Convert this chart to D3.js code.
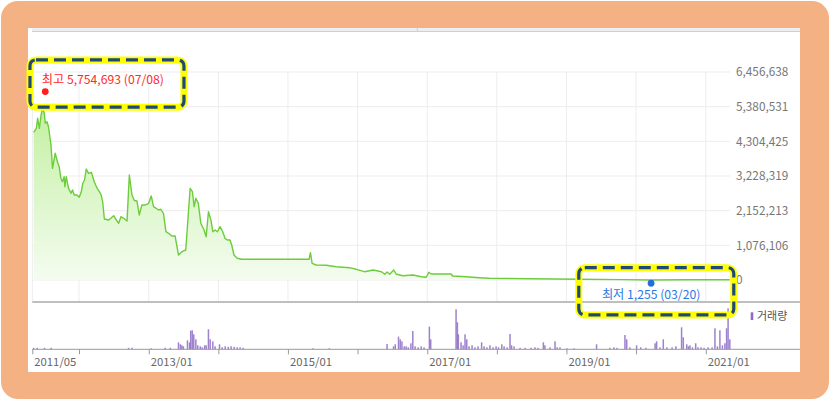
<!DOCTYPE html>
<html><head><meta charset="utf-8">
<script src="https://cdn.jsdelivr.net/npm/d3@7"></script>
<style>
body{margin:0;background:#fff}
svg{display:block}
text{font-family:"Noto Sans CJK KR","Noto Sans",sans-serif}
</style>
</head><body>
<svg id="c" width="830" height="400"></svg>
<script>
// ---------- DATA ----------
const priceDates = ["2011-05-08","2011-05-22","2011-05-29","2011-06-07","2011-06-16","2011-06-24","2011-07-03","2011-07-08","2011-07-17","2011-07-25",
"2011-08-07","2011-08-15","2011-08-29","2011-09-10","2011-09-19","2011-09-28","2011-10-06","2011-10-15","2011-10-19","2011-10-26",
"2011-11-07","2011-11-20","2011-11-28","2011-12-07","2011-12-21","2012-01-02","2012-01-13","2012-01-21","2012-01-30","2012-02-08",
"2012-02-20","2012-03-06","2012-03-21","2012-04-05","2012-04-17","2012-04-26","2012-05-04","2012-05-13","2012-06-05","2012-06-19",
"2012-07-01","2012-07-15","2012-07-27","2012-08-08","2012-08-22","2012-09-09","2012-09-21","2012-10-05","2012-10-17","2012-10-31",
"2012-11-12","2012-11-26","2012-12-14","2012-12-31","2013-01-14","2013-01-26","2013-02-09","2013-02-21","2013-03-05","2013-03-19",
"2013-04-01","2013-04-15","2013-05-02","2013-05-19","2013-06-06","2013-06-24","2013-07-14","2013-08-06","2013-08-18","2013-08-27",
"2013-09-05","2013-09-18","2013-10-01","2013-10-18","2013-10-29","2013-11-10","2013-11-23","2013-12-03","2013-12-15","2013-12-27",
"2014-01-10","2014-01-24","2014-02-05","2014-02-17","2014-03-03","2014-03-12","2014-03-24","2014-04-10","2014-05-03","2015-04-22",
"2015-04-29","2015-05-08","2015-05-29","2015-07-21","2015-09-12","2015-11-20","2015-12-25","2016-02-07","2016-03-23","2016-05-06",
"2016-05-23","2016-06-04","2016-06-18","2016-07-09","2016-07-23","2016-08-27","2016-10-18","2016-12-01","2016-12-27","2017-01-09",
"2017-01-21","2017-05-06","2017-05-14","2017-07-23","2017-10-01","2017-11-23","2018-06-20","2019-03-08","2019-10-15","2020-03-20",
"2020-09-15","2021-05-07"];
const priceValues = [4585000,4709000,5019000,4709000,5122000,5330000,5175000,4864000,4914000,4759000,
4191000,3467000,3933000,3672000,3517000,3157000,3051000,3207000,2896000,3207000,
2846000,2691000,2794000,2639000,2639000,2567000,2741000,3002000,3104000,3446000,
3312000,3343000,3051000,2846000,2741000,2639000,2431000,1894000,1862000,1934000,
1996000,1862000,1760000,1965000,1915000,1831000,3259000,2639000,2468000,2452000,
2018000,2328000,2328000,2381000,2607000,2275000,2226000,2173000,2195000,2070000,
1499000,1450000,1366000,1366000,776000,878000,931000,2846000,2741000,2275000,
2536000,2381000,1760000,1552000,1344000,2120000,1862000,1499000,1552000,1499000,
1655000,1499000,1294000,1242000,1242000,1086000,776000,674000,643000,643000,
847000,518000,466000,456000,413000,382000,332000,258000,310000,258000,
177000,248000,177000,310000,177000,133000,155000,102000,84000,239000,
186000,186000,124000,102000,71000,53000,40000,22000,12000,1255,
8000,6000];

const volumeDates = ["2011-05-08","2011-05-27","2011-07-04","2011-08-08","2012-09-17","2012-10-05","2013-01-14","2013-03-28","2013-04-24","2013-06-06",
"2013-06-16","2013-06-24","2013-07-02","2013-07-23","2013-08-03","2013-08-09","2013-08-17","2013-08-25","2013-09-05","2013-09-15",
"2013-09-28","2013-10-08","2013-10-21","2013-10-29","2013-11-10","2013-11-19","2013-12-03","2013-12-15","2014-01-07","2014-01-21",
"2014-02-06","2014-02-22","2014-03-09","2014-03-25","2014-04-10","2014-04-25","2014-05-11","2015-05-11","2015-08-06","2016-06-04",
"2016-07-08","2016-07-17","2016-08-03","2016-08-12","2016-08-21","2016-09-02","2016-09-12","2016-09-23","2016-10-07","2016-10-17",
"2016-10-29","2016-11-14","2016-11-30","2016-12-15","2017-01-12","2017-01-19","2017-06-01","2017-06-08","2017-06-13","2017-06-27",
"2017-07-08","2017-07-18","2017-07-27","2017-08-08","2017-08-24","2017-09-08","2017-09-24","2017-10-13","2017-10-26","2017-11-10",
"2017-11-26","2017-12-12","2017-12-28","2018-01-10","2018-01-27","2018-02-08","2018-02-24","2018-03-11","2018-03-19","2018-04-01",
"2018-05-03","2018-05-29","2018-06-29","2018-07-20","2018-08-05","2018-09-02","2018-09-10","2018-10-07","2018-11-02","2018-11-13",
"2018-11-28","2019-01-04","2019-02-10","2019-06-08","2019-08-17","2019-09-07","2019-09-23","2019-11-04","2019-11-13","2019-11-30",
"2020-01-04","2020-01-26","2020-02-22","2020-04-10","2020-04-18","2020-05-06","2020-05-23","2020-06-11","2020-07-08","2020-07-28",
"2020-08-27","2020-09-05","2020-09-23","2020-10-02","2020-10-10","2020-10-23","2020-11-09","2020-11-21","2020-12-07","2020-12-23",
"2021-01-13","2021-02-03","2021-02-18","2021-03-03","2021-03-16","2021-03-29","2021-04-11","2021-04-20","2021-04-28","2021-05-07"];
const volumeValues = [1500,1500,1500,1500,1500,1500,1000,1500,1500,7000,
5000,4000,3000,9000,7000,18700,19000,15000,10000,4000,
3000,2000,4000,4000,20000,10000,8000,3000,5000,2000,
3000,2500,3000,2500,2000,2000,1500,1000,1000,5300,
3000,5000,12700,10000,8000,3000,3000,2000,6000,18300,
3000,2000,3000,2000,22700,10000,40000,27000,15000,7000,
4000,15000,10000,3000,4000,2000,3000,7000,3000,2000,
4000,2000,3000,2000,5000,3000,2000,15300,4000,3000,
1500,1500,1500,2000,1500,7000,4000,2000,8000,2000,
2000,1000,1000,5000,1500,2000,1500,14300,10000,2000,
4000,2000,1500,6000,8000,2000,10000,2000,2000,3000,
22000,12000,5000,3000,4000,2000,6000,2000,2000,1500,
2000,2000,21000,3000,19000,4000,6000,21000,41000,10000];

const yTickValues = [0,1076106,2152213,3228319,4304425,5380531,6456638];
const xTickDates = ["2011-05-01","2012-01-01","2013-01-01","2014-01-01","2015-01-01","2016-01-01","2017-01-01","2018-01-01","2019-01-01","2020-01-01","2021-01-01"];
const xTickLabels = ["2011/05","","2013/01","","2015/01","","2017/01","","2019/01","","2021/01"];
const extremeLabels = ["최고","최저"];
const extremeValues = [5754693,1255];
const extremeDates = ["2011-07-08","2020-03-20"];
const extremeDateLabels = ["07/08","03/20"];
const volumeLabel = "거래량";

// ---------- SETUP ----------
const parse = d3.timeParse("%Y-%m-%d");
const price = priceDates.map((d,i)=>({date:parse(d), v:priceValues[i]}));
const vol = volumeDates.map((d,i)=>({date:parse(d), v:volumeValues[i]}));
const xTicks = xTickDates.map(parse);

const L = 32.3, R = 730, PT = 72, PB = 280, SEP = 302, VB = 349.3, VT = 308.3;
const x = d3.scaleTime().domain([parse("2011-05-01"), parse("2021-05-08")]).range([L, R]);
const y = d3.scaleLinear().domain([0, 6456638]).range([PB, PT]);
const vy = d3.scaleLinear().domain([0, d3.max(volumeValues)]).range([VB, VT]);

const svg = d3.select("#c");

// frame
svg.append("rect").attr("x",1).attr("y",1).attr("width",828).attr("height",398).attr("rx",17).attr("fill","#f4b183");
svg.append("rect").attr("x",28).attr("y",28).attr("width",772).attr("height",344).attr("fill","#fff");
svg.append("rect").attr("x",32).attr("y",28).attr("width",768).attr("height",3.5).attr("fill","#eeeef2");
svg.append("line").attr("x1",32).attr("x2",800).attr("y1",31.5).attr("y2",31.5).attr("stroke","#cfcfd8");
svg.append("line").attr("x1",417.3).attr("x2",417.3).attr("y1",28).attr("y2",31.5).attr("stroke","#cfcfd8");

// gradient
const defs = svg.append("defs");
const g = defs.append("linearGradient").attr("id","gf").attr("gradientUnits","userSpaceOnUse")
  .attr("x1",0).attr("x2",0).attr("y1",y(5400000)).attr("y2",y(0));
g.append("stop").attr("offset","0").attr("stop-color","#c2f0a0");
g.append("stop").attr("offset","1").attr("stop-color","#f4fcf0");

// grid
svg.append("g").selectAll("line").data(yTickValues).join("line")
  .attr("x1",L).attr("x2",R).attr("y1",d=>y(d)).attr("y2",d=>y(d))
  .attr("stroke","#ededed").attr("stroke-width",1);
svg.append("g").selectAll("line").data(xTicks).join("line")
  .attr("x1",d=>x(d)).attr("x2",d=>x(d)).attr("y1",PT).attr("y2",SEP)
  .attr("stroke","#ededed").attr("stroke-width",1);

// area + line
svg.append("path").datum(price)
  .attr("d", d3.area().x(d=>x(d.date)).y0(y(0)).y1(d=>y(d.v)))
  .attr("fill","url(#gf)");
svg.append("path").datum(price)
  .attr("d", d3.line().x(d=>x(d.date)).y(d=>y(d.v)))
  .attr("fill","none").attr("stroke","#6dcc3c").attr("stroke-width",1.4).attr("stroke-linejoin","round");

// y labels
svg.append("g").selectAll("text").data(yTickValues).join("text")
  .attr("x",736).attr("y",d=>y(d)).attr("dy","0.36em")
  .attr("font-size",11.8).attr("fill","#777").text(d=>d3.format(",")(d));

// separator
svg.append("line").attr("x1",L).attr("x2",800).attr("y1",SEP).attr("y2",SEP)
  .attr("stroke","#aaa").attr("stroke-width",1.5);

// volume
svg.append("g").selectAll("rect").data(vol).join("rect")
  .attr("x",d=>x(d.date)-0.75).attr("width",1.5)
  .attr("y",d=>vy(d.v)).attr("height",d=>VB-vy(d.v))
  .attr("fill","#8d6cc6").attr("fill-opacity",0.85);

// bottom axis
svg.append("line").attr("x1",L).attr("x2",800).attr("y1",VB).attr("y2",VB).attr("stroke","#999");
const ax = svg.append("g").attr("transform",`translate(0,${VB})`)
  .call(d3.axisBottom(x).tickValues(xTicks).tickSize(5).tickFormat((d,i)=>xTickLabels[i]));
ax.select(".domain").remove();
ax.selectAll(".tick line").attr("stroke","#999");
ax.selectAll(".tick text").attr("text-anchor","start").attr("x",1.5).attr("y",8.5)
  .attr("font-size",11.3).attr("fill","#666").attr("font-family",null);

// legend
svg.append("rect").attr("x",750.7).attr("y",312.3).attr("width",2.6).attr("height",7.7).attr("fill","#8d6cc6");
svg.append("text").attr("x",757).attr("y",316.2).attr("dy","0.36em").attr("font-size",11).attr("fill","#555").text(volumeLabel);

// extremes
const colors = ["#ff1e1e","#1f6fe0"];
const txtColors = ["#ff2a2a","#2b78e4"];
extremeValues.forEach((v,i)=>{
  const cx = x(parse(extremeDates[i]));
  const cy = y(v) + (i===0 ? -3 : 3.3);
  const label = `${extremeLabels[i]} ${d3.format(",")(v)} (${extremeDateLabels[i]})`;
  svg.append("circle").attr("cx",cx).attr("cy",cy).attr("r",3.4).attr("fill",colors[i]);
  if(i===0){
    svg.append("text").attr("x",cx-3.5).attr("y",cy-7.5).attr("font-size",12.2).attr("fill",txtColors[i]).text(label);
  } else {
    svg.append("text").attr("x",cx).attr("y",cy+16).attr("text-anchor","middle").attr("font-size",12.2).attr("fill",txtColors[i]).text(label);
  }
  // highlight box
  const bx = i===0 ? cx-15.3 : cx-72.3;
  const by = i===0 ? cy-31.7 : cy-15.6;
  const bw = i===0 ? 154 : 155, bh = 47.3;
  svg.append("rect").attr("x",bx).attr("y",by).attr("width",bw).attr("height",bh).attr("rx",6)
    .attr("fill","none").attr("stroke","#ffff00").attr("stroke-width",7);
  svg.append("rect").attr("x",bx).attr("y",by).attr("width",bw).attr("height",bh).attr("rx",6)
    .attr("fill","none").attr("stroke","#1f4a78").attr("stroke-width",3.2).attr("stroke-dasharray","12 6");
});
</script>
</body></html>
